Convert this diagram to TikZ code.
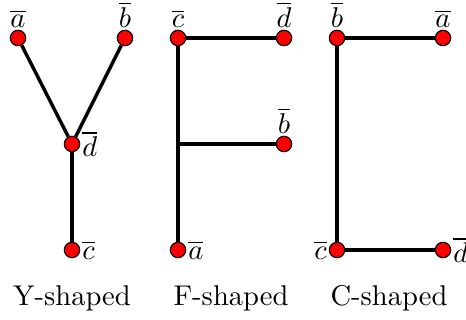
\documentclass[tikz,border=0pt]{standalone}
\usepackage{amsmath,amssymb}
\usepackage{tikz}
\usetikzlibrary{positioning}

\begin{document}
\begin{tikzpicture}[
    x=0.35pt, y=-0.35pt,
    vertex/.style={circle, draw, fill=red, inner sep=0pt, minimum size=5.4pt},
    edge/.style={line width=1.2pt},
    lbl/.style={inner sep=0.5pt}
]
    \useasboundingbox (0,0) rectangle (466,320);

    % Y-shaped
    \node[vertex, label={[lbl]above:$\overline{a}$}] (ya) at (18,38) {};
    \node[vertex, label={[lbl]above:$\overline{b}$}] (yb) at (125,38) {};
    \node[vertex, label={[lbl]right:$\overline{d}$}] (yd) at (72,144) {};
    \node[vertex, label={[lbl]right:$\overline{c}$}] (yc) at (72,250) {};
    \draw[edge] (ya) -- (yd);
    \draw[edge] (yb) -- (yd);
    \draw[edge] (yd) -- (yc);

    % F-shaped
    \node[vertex, label={[lbl]above:$\overline{c}$}] (fc) at (178,38) {};
    \node[vertex, label={[lbl]above:$\overline{d}$}] (fd) at (284,38) {};
    \node[vertex, label={[lbl]above:$\overline{b}$}] (fb) at (284,144) {};
    \node[vertex, label={[lbl]right:$\overline{a}$}] (fa) at (178,250) {};
    \coordinate (fj) at (178,144);
    \draw[edge] (fc) -- (fd);
    \draw[edge] (fc) -- (fa);
    \draw[edge] (fj) -- (fb);

    % C-shaped
    \node[vertex, label={[lbl]above:$\overline{b}$}] (cb) at (337,38) {};
    \node[vertex, label={[lbl]above:$\overline{a}$}] (ca) at (443,38) {};
    \node[vertex, label={[lbl]left:$\overline{c}$}] (cc) at (337,250) {};
    \node[vertex, label={[lbl]right:$\overline{d}$}] (cd) at (443,250) {};
    \draw[edge] (cb) -- (ca);
    \draw[edge] (cb) -- (cc);
    \draw[edge] (cc) -- (cd);

    \node (ytext) at (72,298) {Y-shaped};
    \node (ftext) at (231,298) {F-shaped};
    \node (ctext) at (389,298) {C-shaped};
\end{tikzpicture}
\end{document}
